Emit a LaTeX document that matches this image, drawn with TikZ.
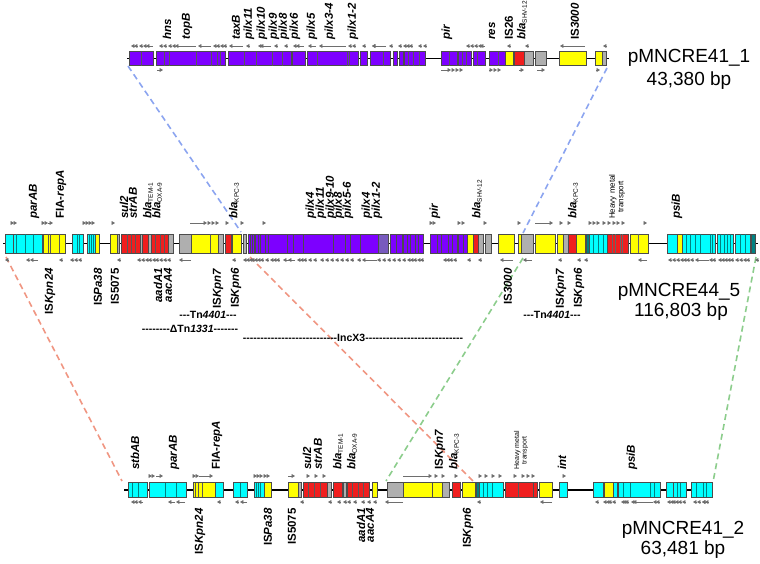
\documentclass[tikz,border=0pt]{standalone}
\usepackage{fontspec}
\setmainfont{Liberation Sans}
\usetikzlibrary{arrows.meta}
\definecolor{pur}{RGB}{125,0,255}
\definecolor{cya}{RGB}{0,255,255}
\definecolor{yel}{RGB}{255,255,0}
\definecolor{rd}{RGB}{240,30,30}
\definecolor{gry}{RGB}{175,175,175}
\definecolor{tl}{RGB}{0,130,130}
\definecolor{gp}{RGB}{120,90,190}
\definecolor{dblue}{RGB}{140,165,240}
\definecolor{dred}{RGB}{240,150,130}
\definecolor{dgreen}{RGB}{140,205,140}
\definecolor{arc}{RGB}{110,110,110}
\tikzset{
 boxst/.style={draw=black!70, line width=0.5pt},
 divst/.style={line width=0.6pt},
 bb/.style={line width=1.6pt, black},
 garr/.style={draw=arc, line width=0.7pt, -{Triangle[length=3.4pt,width=3.8pt]}},
 conn/.style={line width=1.6pt, dash pattern=on 6pt off 4pt},
 glab/.style={rotate=90, inner sep=0pt, font=\fontsize{11.5}{12}\selectfont\bfseries},
 ga/.style={glab, anchor=west},
 gb/.style={glab, anchor=east},
 hm/.style={rotate=90, anchor=west, align=center, inner sep=0pt},
 pname/.style={font=\fontsize{19}{20}\selectfont, inner sep=0pt},
 tagst/.style={font=\fontsize{10.5}{11}\selectfont\bfseries, inner sep=0pt}
}
\newcommand\BX[3]{\filldraw[boxst, fill=#3] (#1,\yt) rectangle (#2,\yb);}
\newcommand\DV[2]{\foreach \q in {#2} {\draw[divst, #1] (\q,\yt) -- (\q,\yb);}}
\newcommand\AL[3]{\draw[garr] (#2,#3) -- (#1,#3);}
\newcommand\AR[3]{\draw[garr] (#1,#3) -- (#2,#3);}
\newcommand\TL[2]{\foreach \tp in {#1} {\AL{\tp}{\tp+3.5}{#2}}}
\newcommand\TR[2]{\foreach \tp in {#1} {\AR{\tp-3.5}{\tp}{#2}}}
\newcounter{lb}
\newcommand\LA[3]{\stepcounter{lb}\node[ga] (la\arabic{lb}) at (#1,#2) {#3};}
\newcommand\LB[3]{\stepcounter{lb}\node[gb] (lb\arabic{lb}) at (#1,#2) {#3};}
\newcommand\bla[1]{\textit{bla}{\fontsize{6.5}{6.5}\selectfont\mdseries\raisebox{-1.5pt}{#1}}}
\newcommand\dsh[1]{\foreach \k in {1,...,#1}{-\kern0pt}}
\begin{document}
\begin{tikzpicture}[x=1pt,y=-1pt]
\useasboundingbox (0,0) rectangle (760,563);
% ---------- connectors
\coordinate (b1a) at (128,66); \coordinate (b1b) at (241,232);
\coordinate (b2a) at (607,68); \coordinate (b2b) at (523,233);
\coordinate (r1a) at (6,257); \coordinate (r1b) at (122,481);
\coordinate (r2a) at (250,257); \coordinate (r2b) at (473,481);
\coordinate (g1a) at (523,258); \coordinate (g1b) at (386,481);
\coordinate (g2a) at (756,257); \coordinate (g2b) at (713,482);
\draw[conn, dblue] (b1a) -- (b1b);
\draw[conn, dblue] (b2a) -- (b2b);
\draw[conn, dred] (r1a) -- (r1b);
\draw[conn, dred] (r2a) -- (r2b);
\draw[conn, dgreen] (g1a) -- (g1b);
\draw[conn, dgreen] (g2a) -- (g2b);
% ================= TOP plasmid
\def\yt{51.5}\def\yb{65.5}
\draw[bb] (127,58.5) -- (609,58.5);
\BX{129}{153}{pur}\BX{156}{225}{pur}\BX{228}{291}{pur}\BX{292}{305}{pur}
\BX{307}{358}{pur}\BX{360}{367}{pur}\BX{370}{390}{pur}\BX{393}{397}{pur}
\BX{399}{403}{pur}\BX{404}{425}{pur}\BX{441}{457}{pur}\BX{458}{471}{pur}
\BX{473}{485}{pur}\BX{489}{505}{pur}\BX{505}{513}{yel}\BX{514}{524}{rd}
\BX{524}{533}{gry}\BX{535}{546}{gry}\BX{559}{586}{yel}\BX{595}{602}{yel}\BX{602}{606}{gry}
\DV{black!65}{141,164,169,196,211,217,220,244,256,272,282,317,347,349,383,408,413,419,449,462,466,477,498}
% arrows top
\TL{131,134,139,143,159,163,168,172,213,216,220,223,246,258,274,284,296,348,352,362,372,389,398,403,406,409,418,423,466,470,474,478,507,525}{46}
\AL{146}{153}{46}\AL{175}{196}{46}\AL{198}{211}{46}\AL{229}{243}{46}\AL{260}{271}{46}
\AL{293}{304}{46}\AL{308}{316}{46}\AL{319}{346}{46}\AL{372}{386}{46}\AL{480}{485}{46}
\AL{560}{585}{46}\AL{603}{607}{46}
\AR{157}{163}{70}\AR{441}{451}{70}\TR{455,459,463,497,501}{70}\AR{489}{493}{70}
\AR{519}{524}{70}\AR{537}{545}{70}\AR{596}{600}{70}
% labels top
\LA{167}{40}{\textit{hns}}\LA{187}{40}{\textit{topB}}\LA{236}{40}{\textit{taxB}}
\LA{249}{40}{\textit{pilx11}}\LA{262}{40}{\textit{pilx10}}\LA{274}{40}{\textit{pilx9}}
\LA{284}{40}{\textit{pilx8}}\LA{295}{40}{\textit{pilx6}}\LA{312}{40}{\textit{pilx5}}
\LA{330}{40}{\textit{pilx3-4}}\LA{353}{40}{\textit{pilx1-2}}\LA{447}{40}{\textit{pir}}
\LA{492}{40}{\textit{res}}\LA{509}{40}{IS26}\LA{522}{40}{\bla{SHV-12}}\LA{575}{40}{IS\textit{3000}}
\node[pname] (p1a) at (689,58) {pMNCRE41\_1};
\node[pname] (p1b) at (689,81) {43,380 bp};
% ================= MIDDLE plasmid
\def\yt{234}\def\yb{253}
\draw[bb] (3,243.5) -- (758,243.5);
\BX{5}{13}{cya}\BX{13}{42}{cya}\BX{43}{65}{yel}\BX{72}{83}{cya}\BX{87}{95}{cya}\BX{95}{99}{yel}
\BX{110}{117}{yel}\BX{117}{119}{gry}\BX{121}{140}{rd}\BX{140}{142}{gry}\BX{142}{148}{rd}
\BX{148}{151}{gry}\BX{151}{168}{rd}\BX{168}{173}{gry}\BX{179}{191}{gry}\BX{191}{218}{yel}
\BX{218}{223}{gry}\BX{225}{231}{rd}\BX{232}{241}{yel}\BX{243}{246}{gry}\BX{248}{378}{pur}
\BX{378}{388}{gp}\BX{390}{402}{pur}\BX{403}{423}{pur}\BX{430}{457}{pur}\BX{458}{467}{pur}
\BX{467}{473}{yel}\BX{473}{478}{rd}\BX{478}{483}{gry}\BX{485}{491}{gry}
\BX{498}{514}{yel}\BX{518}{521}{yel}\BX{521}{533}{gry}\BX{535}{555}{yel}\BX{557}{563}{yel}
\BX{563}{568}{gry}\BX{568}{576}{rd}\BX{576}{585}{yel}\BX{586}{589}{tl}\BX{589}{607}{cya}
\BX{607}{628}{rd}\BX{630}{648}{yel}\BX{667}{677}{cya}\BX{677}{682}{yel}\BX{682}{715}{cya}
\BX{717}{733}{cya}\BX{735}{750}{cya}\BX{751}{755}{tl}
\DV{tl}{16,25,33,77,79,89,91,93,593,598,603,686,690,695,700,710,712,720,724,727,730,740,745}
\DV{black!65}{48,50,59,127,131,135,155,160,164,210}
\DV{black!70}{250,252,254,255,258,260,265,268,287,293,303,333,345,350,360,396,407,410,415,418,437,441,448,452,463}
\DV{black!60}{612,615,620,622,638}
% arrows middle
\TR{14,17,45,48,86,89,92,95,115,211,215,219,229,244,266,433,436,461,465,487,521,563,571,592,596,600,606,611,616,620,625,647}{223}
\AR{48}{53}{223}\AR{190}{207}{223}\AR{535}{553}{223}
\TL{5,26,59,70,74,78,117,137,141,145,148,152,155,159,163,167,232,243,246,249,251,254,257,260,265,270,273,276,288,297,300,303,308,313,320,325,330,335,340,345,350,357,377,382,387,392,397,402,407,410,413,417,420,443,446,449,453,467,478,558,577,584,668,672,676,680,683,686,690,709,712,718,721,724,727,730,735,739,743,746,755}{260}
\AL{30}{38}{260}\AL{179}{191}{260}\AL{283}{295}{260}\AL{362}{377}{260}\AL{500}{513}{260}
\AL{523}{532}{260}\AL{638}{647}{260}\AL{695}{709}{260}
% labels middle
\LA{34}{219}{\textit{parAB}}\LA{61}{219}{FIA-\textit{repA}}\LA{124}{219}{\textit{sul2}}
\LA{133}{219}{\textit{strAB}}\LA{148}{219}{\bla{TEM-1}}\LA{157}{219}{\bla{OXA-9}}
\LA{234}{219}{\bla{KPC-3}}\LA{311}{219}{\textit{pilx4}}\LA{321}{219}{\textit{pilx11}}
\LA{331}{219}{\textit{pilx9-10}}\LA{339}{219}{\textit{pilx8}}\LA{348}{219}{\textit{pilx5-6}}
\LA{367}{219}{\textit{pilx4}}\LA{377}{219}{\textit{pilx1-2}}\LA{435}{219}{\textit{pir}}
\LA{477}{219}{\bla{SHV-12}}\LA{573}{219}{\bla{KPC-3}}\LA{677}{219}{\textit{psiB}}
\node[hm, font=\fontsize{8}{8.5}\selectfont] (hm1) at (617,219) {Heavy metal\\transport};
\LB{50}{268}{IS\textit{Kpn24}}\LB{98}{268}{IS\textit{Pa38}}\LB{115}{268}{IS5075}
\LB{158}{268}{\textit{aadA1}}\LB{168}{268}{\textit{aacA4}}\LB{218}{268}{IS\textit{Kpn7}}
\LB{236}{268}{IS\textit{Kpn6}}\LB{508}{268}{IS\textit{3000}}\LB{561}{268}{IS\textit{Kpn7}}
\LB{579}{268}{IS\textit{Kpn6}}
\node[tagst] (tn1) at (208,315) {\dsh{3}Tn\textit{4401}\dsh{3}};
\node[tagst] (tn2) at (190,329) {\dsh{8}ΔTn\textit{1331}\dsh{7}};
\node[tagst] (inc) at (353,338) {\dsh{27}IncX3\dsh{28}};
\node[tagst] (tn3) at (552,315) {\dsh{3}Tn\textit{4401}\dsh{3}};
\node[pname] (p2a) at (679,292) {pMNCRE44\_5};
\node[pname] (p2b) at (681,312) {116,803 bp};
% ================= BOTTOM plasmid
\def\yt{482.5}\def\yb{497}
\draw[bb] (124,490) -- (713,490);
\BX{128}{147}{cya}\BX{149}{186}{cya}\BX{193}{215}{yel}\BX{215}{223}{cya}\BX{233}{247}{cya}
\BX{254}{264}{cya}\BX{264}{271}{yel}\BX{288}{298}{yel}\BX{298}{301}{gry}\BX{303}{327}{rd}
\BX{327}{331}{gry}\BX{333}{342}{rd}\BX{343}{346}{gry}\BX{347}{369}{rd}\BX{372}{377}{yel}
\BX{387}{403}{gry}\BX{403}{432}{yel}\BX{432}{442}{yel}\BX{442}{449}{gry}\BX{452}{460}{rd}
\BX{462}{475}{yel}\BX{476}{479}{tl}\BX{479}{503}{cya}\BX{505}{533}{rd}\BX{533}{537}{rd}
\BX{539}{552}{yel}\BX{559}{567}{cya}\BX{593}{603}{cya}\BX{604}{613}{yel}\BX{613}{617}{cya}
\BX{618}{660}{cya}\BX{666}{673}{cya}\BX{673}{686}{cya}\BX{691}{712}{cya}
\DV{tl}{132,138,165,176,240,256,258,260,483,487,492,623,630,650,654,677,680,696,703,706}
\DV{black!65}{195,198,202,308,314,320,352,358,363,518}
% arrows bottom
\TR{152,155,196,199,257,260,263,267,270,310,318,326,438,445,458,482,488,495,502,517,525,530,535,566}{476}
\AR{156}{163}{476}\AR{199}{213}{476}\AR{288}{295}{476}\AR{403}{432}{476}
\TL{131,134,217,235,300,328,337,343,347,353,361,367,373,477,595,603,606,612,621,623,625,631,653,656,667,670,672,675,678,682,693,697,702,705}{502}
\AL{138}{143}{502}\AL{168}{175}{502}\AL{176}{185}{502}\AL{240}{247}{502}\AL{385}{403}{502}
\AL{540}{552}{502}\AL{633}{653}{502}\AL{608}{612}{502}\AL{702}{708}{502}
% labels bottom
\LA{135}{470}{\textit{stbAB}}\LA{174}{470}{\textit{parAB}}\LA{217}{470}{FIA-\textit{repA}}
\LA{307}{470}{\textit{sul2}}\LA{318}{470}{\textit{strAB}}\LA{338}{470}{\bla{TEM-1}}
\LA{352}{470}{\bla{OXA-9}}\LA{440}{470}{IS\textit{Kpn7}}\LA{454}{470}{\bla{KPC-3}}
\LA{562}{470}{\textit{int}}\LA{632}{470}{\textit{psiB}}
\node[hm, font=\fontsize{7}{7.5}\selectfont] (hm2) at (521,470) {Heavy metal\\transport};
\LB{200}{508}{IS\textit{Kpn24}}\LB{268}{508}{IS\textit{Pa38}}\LB{292}{508}{IS5075}
\LB{361}{508}{\textit{aadA1}}\LB{370}{508}{\textit{aacA4}}\LB{468}{508}{IS\textit{Kpn6}}
\node[pname] (p3a) at (683,530) {pMNCRE41\_2};
\node[pname] (p3b) at (683,550) {63,481 bp};
\end{tikzpicture}
\end{document}
